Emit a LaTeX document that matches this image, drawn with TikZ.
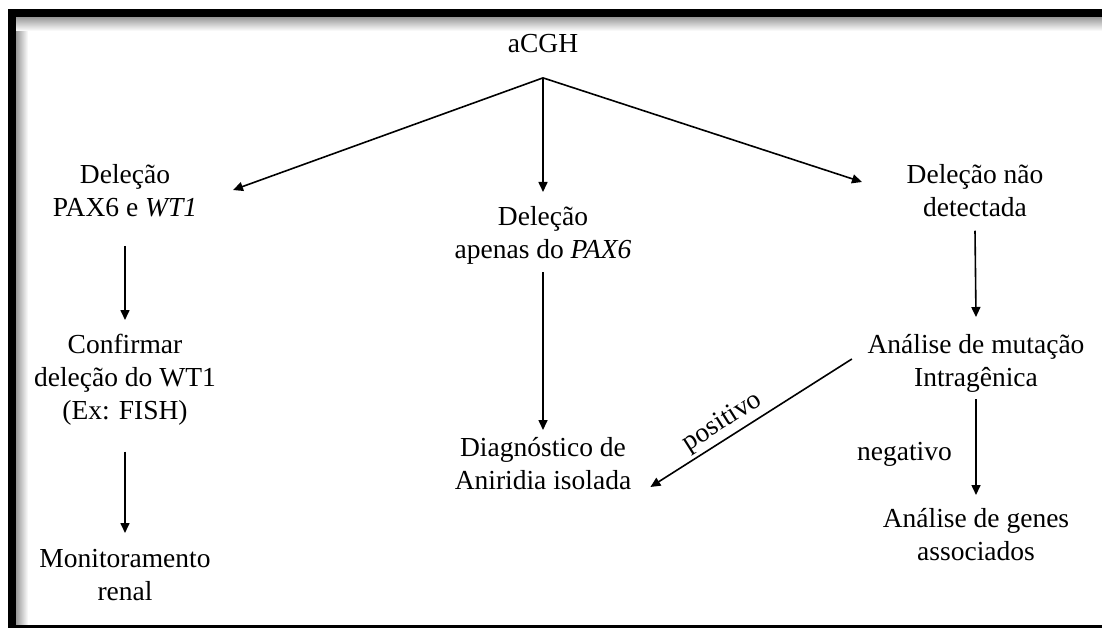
\documentclass[tikz,border=0pt]{standalone}
\usepackage{fontspec}
\setmainfont{Liberation Serif}
\usetikzlibrary{arrows.meta}
\begin{document}
\begin{tikzpicture}[x=1pt,y=-1pt,
  txt/.style={font=\fontsize{27.5}{33}\selectfont, align=center, inner sep=0pt, anchor=north},
  arr/.style={draw=black, line width=1.6pt, -{Triangle[length=10pt,width=9pt]}}]
\useasboundingbox (0,0) rectangle (1102,628);
% frame with inner shadow
\shade[left color=black!40, right color=white] (16,17) rectangle (28,625);
\shade[top color=black!40, bottom color=white] (16,17) rectangle (1102,31);
\fill[black] (8,9) rectangle (1102,17);
\fill[black] (8,9) rectangle (16,628);
\fill[black] (8,625) rectangle (1102,628);
% nodes
\node[txt] (acgh) at (543,34) {aCGH};
\node[txt] (d1) at (125,164) {Deleção\\PAX6 e \textit{WT1}};
\node[txt] (d2) at (543,206) {Deleção\\apenas do \textit{PAX6}};
\node[txt] (d3) at (975,164) {Deleção não\\detectada};
\node[txt] (conf) at (125,334) {Confirmar\\deleção do WT1\\(Ex: FISH)};
\node[txt] (anal) at (976,334) {Análise de mutação\\Intragênica};
\node[txt] (diag) at (543,437) {Diagnóstico de\\Aniridia isolada};
\node[txt, anchor=base east] (neg) at (952,460) {negativo};
\node[txt] (genes) at (976,508) {Análise de genes\\associados};
\node[txt] (mon) at (125,549) {Monitoramento\\renal};
% connectors
\coordinate (apex) at ([shift={(0,25)}]acgh.south);
\draw[arr] (apex) -- ([shift={(108,26)}]d1.north);
\draw[arr] (apex) -- ([shift={(0,-14)}]d2.north);
\draw[arr] (apex) -- ([shift={(-113,18)}]d3.north);
\draw[arr] ([shift={(0,29)}]d1.south) -- ([shift={(0,-14)}]conf.north);
\draw[arr] ([shift={(0,8)}]d2.south) -- ([shift={(0,-7)}]diag.north);
\draw[arr] ([shift={(0,14)}]d3.south) -- ([shift={(0,-17)}]anal.north);
\draw[arr] ([shift={(0,26)}]conf.south) -- ([shift={(0,-16)}]mon.north);
\draw[arr] ([shift={(0,7)}]anal.south) -- ([shift={(0,-13)}]genes.north);
\draw[arr] ([shift={(-15.5,25)}]anal.north west) -- node[sloped, above, pos=0.6, font=\fontsize{27.5}{33}\selectfont, inner sep=3pt] (pos) {positivo} ([shift={(19,50)}]diag.north east);
\end{tikzpicture}
\end{document}
